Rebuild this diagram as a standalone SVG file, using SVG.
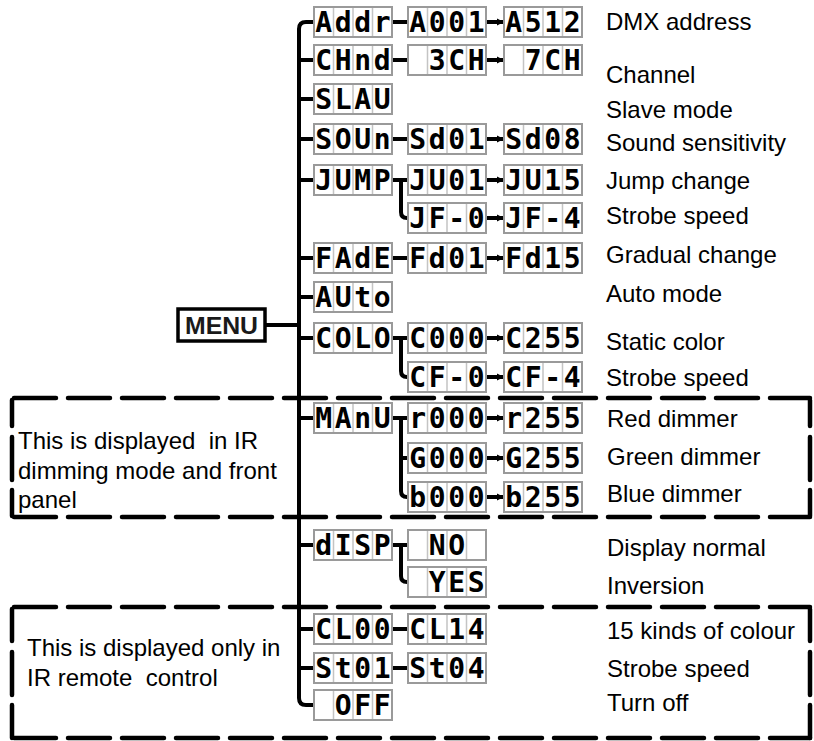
<svg xmlns="http://www.w3.org/2000/svg" xmlns:xlink="http://www.w3.org/1999/xlink" width="814" height="741" viewBox="0 0 814 741">
<style>
.frame{fill:#fff;stroke:#9a9a9a;stroke-width:2}
.cell{stroke:#c4c4c4;stroke-width:1.5}
.seg{font-family:"DejaVu Sans Mono","Liberation Mono",monospace;font-weight:bold;font-size:28px;text-anchor:middle;fill:#000}
.lbl{font-family:"Liberation Sans",Arial,sans-serif;font-size:24px;fill:#000}
.conn{fill:none;stroke:#000;stroke-width:4}
.dash{fill:none;stroke:#000;stroke-width:4.5;stroke-linecap:round}
.menu{fill:#fff;stroke:#000;stroke-width:3.5}
.menut{font-family:"Liberation Sans",Arial,sans-serif;font-weight:bold;font-size:24px;fill:#1a1a1a}
</style>
<defs>
<g id="lcd">
<rect class="frame" x="0" y="0" width="78" height="30"/>
<path class="cell" d="M19.5,1V29M39,1V29M58.5,1V29"/>
</g>
<marker id="arr" markerUnits="userSpaceOnUse" markerWidth="8" markerHeight="8" refX="7" refY="4" orient="auto">
<path d="M0,0.5 L7,4 L0,7.5 z" fill="#000"/>
</marker>
</defs>

<g id="dashed-boxes">
<path class="dash" d="M14,398 H810" stroke-dasharray="42 12"/>
<path class="dash" d="M14,517 H810" stroke-dasharray="42 12"/>
<path class="dash" d="M12,400 V517" stroke-dasharray="26 11 43 10 26"/>
<path class="dash" d="M810,400 V517" stroke-dasharray="26 11 43 10 26"/>
<path class="dash" d="M14,607 H810" stroke-dasharray="42 12"/>
<path class="dash" d="M14,738 H810" stroke-dasharray="42 12"/>
<path class="dash" d="M12,609 V738" stroke-dasharray="32 11 43 10 33"/>
<path class="dash" d="M810,609 V738" stroke-dasharray="32 11 43 10 33"/>
</g>

<g id="connectors">
<path class="conn" d="M314,22 H306 Q299,22 299,29 V698 Q299,705 306,705 H314"/>
<path class="conn" d="M266,325 H299"/>
<path class="conn" d="M299,60 H314 M299,99 H314 M299,139 H314 M299,180 H314 M299,258 H314 M299,297 H314 M299,338 H314 M299,418 H314 M299,545 H314 M299,629 H314 M299,668 H314"/>
<path class="conn" d="M392,22 H408 M392,60 H408 M392,139 H408 M392,258 H408 M392,629 H408 M392,668 H408"/>
<path class="conn" d="M392,180 H408 M401,180 V212 Q401,218 407,218 H408"/>
<path class="conn" d="M392,338 H408 M401,338 V371 Q401,377 407,377 H408"/>
<path class="conn" d="M392,418 H408 M401,418 V491 Q401,497 407,497 H408 M401,458 H408"/>
<path class="conn" d="M392,545 H408 M401,545 V576 Q401,582 407,582 H408"/>
<path class="conn" marker-end="url(#arr)" d="M487,22 H504"/>
<path class="conn" marker-end="url(#arr)" d="M487,60 H504"/>
<path class="conn" marker-end="url(#arr)" d="M487,139 H504"/>
<path class="conn" marker-end="url(#arr)" d="M487,180 H504"/>
<path class="conn" marker-end="url(#arr)" d="M487,218 H504"/>
<path class="conn" marker-end="url(#arr)" d="M487,258 H504"/>
<path class="conn" marker-end="url(#arr)" d="M487,338 H504"/>
<path class="conn" marker-end="url(#arr)" d="M487,377 H504"/>
<path class="conn" marker-end="url(#arr)" d="M487,418 H504"/>
<path class="conn" marker-end="url(#arr)" d="M487,458 H504"/>
<path class="conn" marker-end="url(#arr)" d="M487,497 H504"/>
</g>

<g id="menu">
<rect class="menu" x="178" y="309" width="87" height="32"/>
<text class="menut" x="185" y="334" textLength="73" lengthAdjust="spacingAndGlyphs">MENU</text>
</g>

<g id="n-addr"><use xlink:href="#lcd" x="314" y="7"/><text class="seg" x="323.75 343.25 362.75 382.25" y="32">Addr</text></g>
<g id="n-a001"><use xlink:href="#lcd" x="408" y="7"/><text class="seg" x="417.75 437.25 456.75 476.25" y="32">A001</text></g>
<g id="n-a512"><use xlink:href="#lcd" x="504" y="7"/><text class="seg" x="513.75 533.25 552.75 572.25" y="32">A512</text></g>

<g id="n-chnd"><use xlink:href="#lcd" x="314" y="45"/><text class="seg" x="323.75 343.25 362.75 382.25" y="70">CHnd</text></g>
<g id="n-3ch"><use xlink:href="#lcd" x="408" y="45"/><text class="seg" x="437.25 456.75 476.25" y="70">3CH</text></g>
<g id="n-7ch"><use xlink:href="#lcd" x="504" y="45"/><text class="seg" x="533.25 552.75 572.25" y="70">7CH</text></g>

<g id="n-slau"><use xlink:href="#lcd" x="314" y="84"/><text class="seg" x="323.75 343.25 362.75 382.25" y="109">SLAU</text></g>

<g id="n-soun"><use xlink:href="#lcd" x="314" y="124"/><text class="seg" x="323.75 343.25 362.75 382.25" y="149">SOUn</text></g>
<g id="n-sd01"><use xlink:href="#lcd" x="408" y="124"/><text class="seg" x="417.75 437.25 456.75 476.25" y="149">Sd01</text></g>
<g id="n-sd08"><use xlink:href="#lcd" x="504" y="124"/><text class="seg" x="513.75 533.25 552.75 572.25" y="149">Sd08</text></g>

<g id="n-jump"><use xlink:href="#lcd" x="314" y="165"/><text class="seg" x="323.75 343.25 362.75 382.25" y="190">JUMP</text></g>
<g id="n-ju01"><use xlink:href="#lcd" x="408" y="165"/><text class="seg" x="417.75 437.25 456.75 476.25" y="190">JU01</text></g>
<g id="n-ju15"><use xlink:href="#lcd" x="504" y="165"/><text class="seg" x="513.75 533.25 552.75 572.25" y="190">JU15</text></g>

<g id="n-jf0"><use xlink:href="#lcd" x="408" y="203"/><text class="seg" x="417.75 437.25 456.75 476.25" y="228">JF-0</text></g>
<g id="n-jf4"><use xlink:href="#lcd" x="504" y="203"/><text class="seg" x="513.75 533.25 552.75 572.25" y="228">JF-4</text></g>

<g id="n-fade"><use xlink:href="#lcd" x="314" y="243"/><text class="seg" x="323.75 343.25 362.75 382.25" y="268">FAdE</text></g>
<g id="n-fd01"><use xlink:href="#lcd" x="408" y="243"/><text class="seg" x="417.75 437.25 456.75 476.25" y="268">Fd01</text></g>
<g id="n-fd15"><use xlink:href="#lcd" x="504" y="243"/><text class="seg" x="513.75 533.25 552.75 572.25" y="268">Fd15</text></g>

<g id="n-auto"><use xlink:href="#lcd" x="314" y="282"/><text class="seg" x="323.75 343.25 362.75 382.25" y="307">AUto</text></g>

<g id="n-colo"><use xlink:href="#lcd" x="314" y="323"/><text class="seg" x="323.75 343.25 362.75 382.25" y="348">COLO</text></g>
<g id="n-c000"><use xlink:href="#lcd" x="408" y="323"/><text class="seg" x="417.75 437.25 456.75 476.25" y="348">C000</text></g>
<g id="n-c255"><use xlink:href="#lcd" x="504" y="323"/><text class="seg" x="513.75 533.25 552.75 572.25" y="348">C255</text></g>

<g id="n-cf0"><use xlink:href="#lcd" x="408" y="362"/><text class="seg" x="417.75 437.25 456.75 476.25" y="387">CF-0</text></g>
<g id="n-cf4"><use xlink:href="#lcd" x="504" y="362"/><text class="seg" x="513.75 533.25 552.75 572.25" y="387">CF-4</text></g>

<g id="n-manu"><use xlink:href="#lcd" x="314" y="403"/><text class="seg" x="323.75 343.25 362.75 382.25" y="428">MAnU</text></g>
<g id="n-r000"><use xlink:href="#lcd" x="408" y="403"/><text class="seg" x="417.75 437.25 456.75 476.25" y="428">r000</text></g>
<g id="n-r255"><use xlink:href="#lcd" x="504" y="403"/><text class="seg" x="513.75 533.25 552.75 572.25" y="428">r255</text></g>

<g id="n-g000"><use xlink:href="#lcd" x="408" y="443"/><text class="seg" x="417.75 437.25 456.75 476.25" y="468">G000</text></g>
<g id="n-g255"><use xlink:href="#lcd" x="504" y="443"/><text class="seg" x="513.75 533.25 552.75 572.25" y="468">G255</text></g>

<g id="n-b000"><use xlink:href="#lcd" x="408" y="482"/><text class="seg" x="417.75 437.25 456.75 476.25" y="507">b000</text></g>
<g id="n-b255"><use xlink:href="#lcd" x="504" y="482"/><text class="seg" x="513.75 533.25 552.75 572.25" y="507">b255</text></g>

<g id="n-disp"><use xlink:href="#lcd" x="314" y="530"/><text class="seg" x="323.75 343.25 362.75 382.25" y="555">dISP</text></g>
<g id="n-no"><use xlink:href="#lcd" x="408" y="530"/><text class="seg" x="437.25 456.75" y="555">NO</text></g>
<g id="n-yes"><use xlink:href="#lcd" x="408" y="567"/><text class="seg" x="437.25 456.75 476.25" y="592">YES</text></g>

<g id="n-cl00"><use xlink:href="#lcd" x="314" y="614"/><text class="seg" x="323.75 343.25 362.75 382.25" y="639">CL00</text></g>
<g id="n-cl14"><use xlink:href="#lcd" x="408" y="614"/><text class="seg" x="417.75 437.25 456.75 476.25" y="639">CL14</text></g>

<g id="n-st01"><use xlink:href="#lcd" x="314" y="653"/><text class="seg" x="323.75 343.25 362.75 382.25" y="678">St01</text></g>
<g id="n-st04"><use xlink:href="#lcd" x="408" y="653"/><text class="seg" x="417.75 437.25 456.75 476.25" y="678">St04</text></g>

<g id="n-off"><use xlink:href="#lcd" x="314" y="690"/><text class="seg" x="343.25 362.75 382.25" y="715">OFF</text></g>

<g id="labels">
<text class="lbl" x="606" y="30">DMX address</text>
<text class="lbl" x="606" y="83">Channel</text>
<text class="lbl" x="606" y="118">Slave mode</text>
<text class="lbl" x="606" y="151">Sound sensitivity</text>
<text class="lbl" x="606" y="189">Jump change</text>
<text class="lbl" x="606" y="224">Strobe speed</text>
<text class="lbl" x="606" y="263">Gradual change</text>
<text class="lbl" x="606" y="302">Auto mode</text>
<text class="lbl" x="606" y="350">Static color</text>
<text class="lbl" x="606" y="386">Strobe speed</text>
<text class="lbl" x="607" y="427">Red dimmer</text>
<text class="lbl" x="607" y="465">Green dimmer</text>
<text class="lbl" x="607" y="502">Blue dimmer</text>
<text class="lbl" x="607" y="556">Display normal</text>
<text class="lbl" x="607" y="594">Inversion</text>
<text class="lbl" x="607" y="639">15 kinds of colour</text>
<text class="lbl" x="607" y="677">Strobe speed</text>
<text class="lbl" x="607" y="711">Turn off</text>
</g>

<g id="note-ir-dimming">
<text class="lbl" x="18" y="449" xml:space="preserve">This is displayed  in IR</text>
<text class="lbl" x="18" y="479">dimming mode and front</text>
<text class="lbl" x="18" y="508">panel</text>
</g>
<g id="note-ir-remote">
<text class="lbl" x="27" y="656">This is displayed only in</text>
<text class="lbl" x="27" y="686" xml:space="preserve">IR remote  control</text>
</g>
</svg>
